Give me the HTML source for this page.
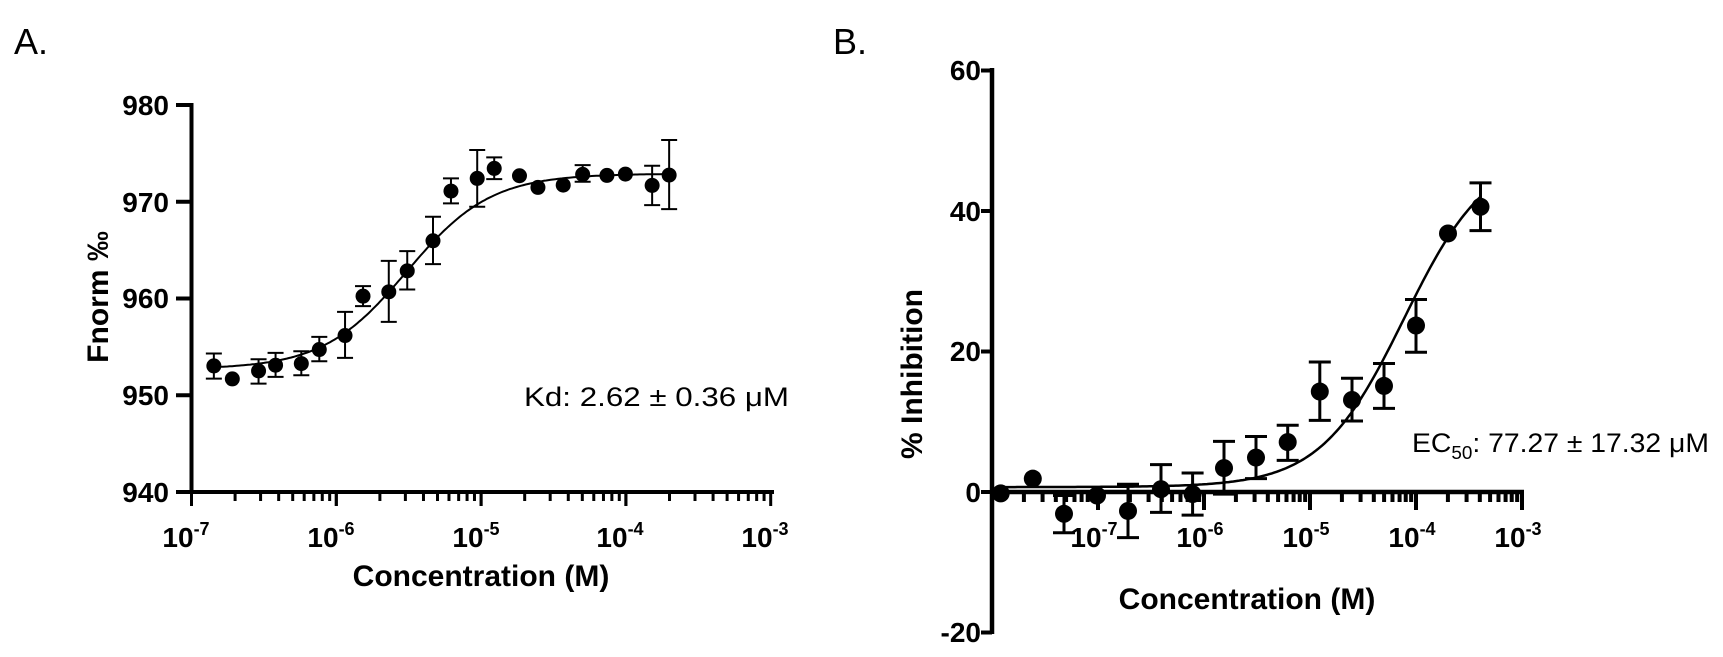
<!DOCTYPE html>
<html><head><meta charset="utf-8"><style>
html,body{margin:0;padding:0;background:#fff;}
svg{display:block;}
text{font-family:"Liberation Sans",Arial,sans-serif;fill:#000;}
.tl{font-weight:bold;font-size:28px;}
.at{font-weight:bold;font-size:30px;}
</style></head><body>
<svg id="s" width="1723" height="657" viewBox="0 0 1723 657" xmlns="http://www.w3.org/2000/svg">
<text x="14" y="54" font-size="36">A.</text>
<text x="833" y="54" font-size="36">B.</text>
<!-- Panel A labels -->
<g class="tl" text-anchor="end">
<text x="169" y="115">980</text><text x="169" y="212">970</text><text x="169" y="308">960</text><text x="169" y="405">950</text><text x="169" y="502">940</text>
</g>
<g class="tl" text-anchor="middle">
<text x="186" y="547">10<tspan font-size="18" dy="-12">-7</tspan></text>
<text x="331" y="547">10<tspan font-size="18" dy="-12">-6</tspan></text>
<text x="476" y="547">10<tspan font-size="18" dy="-12">-5</tspan></text>
<text x="620" y="547">10<tspan font-size="18" dy="-12">-4</tspan></text>
<text x="765" y="547">10<tspan font-size="18" dy="-12">-3</tspan></text>
</g>
<text class="at" x="481" y="586" text-anchor="middle">Concentration (M)</text>
<text class="at" transform="translate(108,297) rotate(-90)" text-anchor="middle">Fnorm ‰</text>
<text x="524" y="406" font-size="27" textLength="265" lengthAdjust="spacingAndGlyphs">Kd: 2.62 ± 0.36 μM</text>
<!-- Panel B labels -->
<g class="tl" text-anchor="end">
<text x="981" y="80">60</text><text x="981" y="221">40</text><text x="981" y="361">20</text><text x="981" y="502">0</text><text x="981" y="642">-20</text>
</g>
<g class="tl" text-anchor="middle">
<text x="1094" y="547">10<tspan font-size="18" dy="-12">-7</tspan></text>
<text x="1200" y="547">10<tspan font-size="18" dy="-12">-6</tspan></text>
<text x="1306" y="547">10<tspan font-size="18" dy="-12">-5</tspan></text>
<text x="1412" y="547">10<tspan font-size="18" dy="-12">-4</tspan></text>
<text x="1518" y="547">10<tspan font-size="18" dy="-12">-3</tspan></text>
</g>
<text class="at" x="1247" y="609" text-anchor="middle">Concentration (M)</text>
<text class="at" transform="translate(922,374) rotate(-90)" text-anchor="middle">% Inhibition</text>
<text x="1412" y="452" font-size="27" textLength="297" lengthAdjust="spacingAndGlyphs">EC<tspan font-size="18" dy="7">50</tspan><tspan dy="-7">: 77.27 ± 17.32 μM</tspan></text>
<g id="g"></g>
</svg>
<script>
var g=document.getElementById('g'),h='';
function L(x1,y1,x2,y2,w){h+='<line x1="'+x1+'" y1="'+y1+'" x2="'+x2+'" y2="'+y2+'" stroke="#000" stroke-width="'+w+'"/>';}
function C(x,y,r){h+='<circle cx="'+x+'" cy="'+y+'" r="'+r+'" fill="#000"/>';}
var ax0=191.5,dec=144.8;
function AY(v){return 492-(v-940)*9.675;}
function AX(l){return ax0+(l+7)*dec;}
L(ax0,103,ax0,494,4);L(189.5,492,774,492,4);
[980,970,960,950,940].forEach(function(v){L(176,AY(v),ax0,AY(v),4);});
for(var d=-7;d<-3;d++){for(var k=1;k<=10;k++){var x=AX(d+Math.log10(k));if(k==1||k==10)L(x,492,x,506,3);else L(x,492,x,501,3);}}
var A=[[443,917,880,955],[481,956,0,0],[535,932,897,970],[570,915,878,950],[623,910,873,945],[660,868,830,903],[713,826,755,893],[750,708,678,738],[803,695,602,785],[841,632,573,688],[894,542,470,612],[931,393,355,430],[985,355,270,440],[1020,325,292,357],[1072,347,0,0],[1110,382,0,0],[1162,375,0,0],[1202,343,315,365],[1252,346,0,0],[1290,342,0,0],[1345,376,317,435],[1380,345,240,447]];
function zX(z){return ax0+(z-397)/298*dec;}function zY(z){return 492-(1295-z)*0.3336;}
A.forEach(function(p){var x=zX(p[0]);if(p[2]){L(x,zY(p[2]),x,zY(p[3]),2);L(x-8,zY(p[2]),x+8,zY(p[2]),2);L(x-8,zY(p[3]),x+8,zY(p[3]),2);}C(x,zY(p[1]),7.5);});
var pth='',l0=(443-397)/298-7,l1=(1380-397)/298-7,ec=Math.log10(3.07e-6);
for(var i=0;i<=200;i++){var l=l0+(l1-l0)*i/200;var v=952.7+20.2/(1+Math.pow(10,(ec-l)*1.5));pth+=(i?'L':'M')+AX(l).toFixed(1)+' '+AY(v).toFixed(1);}
h+='<path d="'+pth+'" fill="none" stroke="#000" stroke-width="2"/>';
var bx0=992,bd=106;
function BY(v){return 492-v*7.025;}function BX(l){return bx0+(l+8)*bd;}
L(bx0,68,bx0,634,4.5);L(990,492,1524,492,4.5);
[60,40,20,0,-20].forEach(function(v){L(981,BY(v),bx0,BY(v),4);});
for(var d=-8;d<-3;d++){for(var k=1;k<=10;k++){var x=BX(d+Math.log10(k));if((k==1&&d>-8)||k==10)L(x,492,x,510,4);else if(k>1)L(x,492,x,502,4);}}
var B=[[1000.7,-0.2],[1032.8,1.9],[1064,-3.1,-0.5,-5.8],[1097,-0.5],[1128,-2.7,1.1,-6.5],[1161,0.4,3.9,-2.9],[1192.6,-0.3,2.7,-3.3],[1224,3.4,7.2,-0.3],[1256,4.9,7.9,1.9],[1287.7,7.1,9.5,4.5],[1319.8,14.3,18.5,10.2],[1352,13.1,16.2,10.1],[1384,15.1,18.3,11.9],[1416,23.7,27.4,19.9],[1448,36.8],[1480.5,40.6,44.0,37.2]];
B.forEach(function(p){var x=p[0];if(p.length>2){L(x,BY(p[2]),x,BY(p[3]),3);L(x-11,BY(p[2]),x+11,BY(p[2]),3);L(x-11,BY(p[3]),x+11,BY(p[3]),3);}C(x,BY(p[1]),9);});
pth='';var bl0=(1000.7-bx0)/bd-8,bl1=(1480.5-bx0)/bd-8,bec=Math.log10(77.27e-6);
for(var i=0;i<=200;i++){var l=bl0+(bl1-bl0)*i/200;var v=0.7+48/(1+Math.pow(10,(bec-l)*1.1));pth+=(i?'L':'M')+BX(l).toFixed(1)+' '+BY(v).toFixed(1);}
h+='<path d="'+pth+'" fill="none" stroke="#000" stroke-width="2.5"/>';
g.innerHTML=h;
</script>
</body></html>
